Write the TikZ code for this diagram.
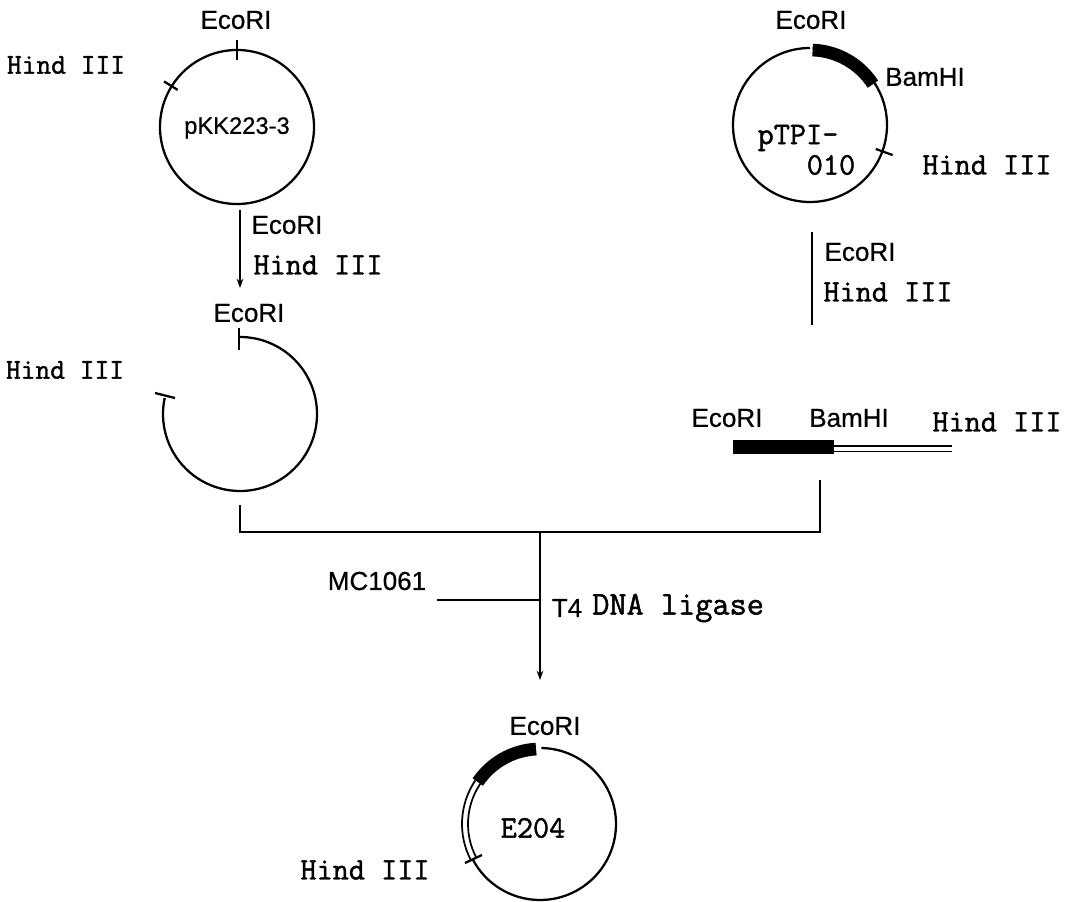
\documentclass[tikz,border=0pt]{standalone}
\usepackage{fontspec}
\setmainfont{Liberation Sans}[FakeBold=0.6]
\setmonofont{Latin Modern Mono}[FakeBold=1.4]
\usetikzlibrary{arrows.meta,calc}
\tikzset{
  ring/.style={line width=1.7pt},
  flow/.style={line width=1.8pt},
  flowtip/.style={flow,-{Stealth[length=7pt,width=5pt]}},
  thickarc/.style={line width=9.5pt},
  site/.style={inner sep=0pt,font=\fontsize{19.5}{22}\selectfont},
  tw/.style={inner sep=0pt,font=\fontsize{23.5}{26}\ttfamily},
  twsmall/.style={inner sep=0pt,font=\fontsize{21.5}{24}\ttfamily},
  twwide/.style={inner sep=0pt,font=\fontsize{25}{27}\ttfamily},
}
\begin{document}
\begin{tikzpicture}[x=0.75pt,y=0.75pt]
\useasboundingbox (0,0) rectangle (1072,901);
% centres
\coordinate (c1) at (237,774);
\coordinate (c2) at (810,776);
\coordinate (c3) at (240,487);
\coordinate (c4) at (540,77);
% plasmid 1
\draw[ring] (c1) circle (77);
\draw[ring] (237,861) -- (237,841);
\draw[ring] ($(c1)+(148:70)$) -- ($(c1)+(148:86)$);
\node[site] (e1) at (236,881) {EcoRI};
\node[twsmall] (h1) at (66,836) {Hind III};
\node[site,font=\fontsize{17.8}{20}\selectfont] (pkk) at (237,773) {pKK223-3};
% plasmid 2
\draw[ring] (c2) ++(88:77) arc (88:-360+88+2:77);
\draw[thickarc] ($(c2)+(88:75)$) arc (88:33:75);
\draw[ring] ($(c2)+(-20:70)$) -- ($(c2)+(-20:88)$);
\node[site] (e2) at (811,881) {EcoRI};
\node[site] (b2) at (925,824) {BamHI};
\node[tw] (h2) at (987,736) {Hind III};
\node[tw] (ptpi) at (798,763) {pTPI-};
\node[tw] (o10) at (831,736) {010};
% arrow 1
\coordinate (a1s) at (240,691);
\coordinate (a1e) at (240,613);
\draw[flowtip] (a1s) -- (a1e);
\node[site] (e3) at (287,676) {EcoRI};
\node[tw] (h3) at (318,636) {Hind III};
% arrow 2
\coordinate (a2s) at (812,669);
\coordinate (a2e) at (812,576);
\draw[flow] (a2s) -- (a2e);
\node[site] (e4) at (860,649) {EcoRI};
\node[tw] (h4) at (888,609) {Hind III};
% open plasmid
\draw[ring] ($(c3)+(90:77)$) arc (90:-192:77);
\draw[ring] (239,573) -- (239,551);
\draw[ring] (155,508) -- (175,503);
\node[site] (e5) at (249,588) {EcoRI};
\node[twsmall] (h5) at (65,531) {Hind III};
% linear fragment
\fill (733,447) rectangle (834,461);
\draw[line width=1.3pt] (834,455) -- (952,455);
\draw[line width=1.3pt] (834,449.5) -- (952,449.5);
\node[site] (e6) at (727,483) {EcoRI};
\node[site] (b6) at (849,483) {BamHI};
\node[tw] (h6) at (997,479) {Hind III};
% ligation
\coordinate (l1) at (240,396);
\coordinate (l2) at (820,421);
\coordinate (j) at (540,369);
\coordinate (end) at (540,221);
\coordinate (m) at (437,301);
\coordinate (mj) at (540,301);
\draw[flow] (l1) |- (j) -| (l2);
\draw[flowtip] (j) -- (end);
\draw[line width=1.3pt] (m) -- (mj);
\node[site] (mc) at (377,320) {MC1061};
\node[site] (t4) at (567,293) {T4};
\node[twwide,anchor=west] (dna) at (592,293) {DNA ligase};
% E204
\draw[ring] ($(c4)+(89:76)$) arc (89:-152:76);
\draw[line width=1.3pt] ($(c4)+(146:78)$) arc (146:208:78);
\draw[line width=1.3pt] ($(c4)+(146:72)$) arc (146:208:72);
\draw[thickarc] ($(c4)+(93:75)$) arc (93:146:75);
\draw[ring] (465,38) -- (482,46);
\node[site] (e7) at (545,175) {EcoRI};
\node[tw] (e204) at (533,73) {E204};
\node[tw] (h7) at (365,31) {Hind III};
\end{tikzpicture}
\end{document}
